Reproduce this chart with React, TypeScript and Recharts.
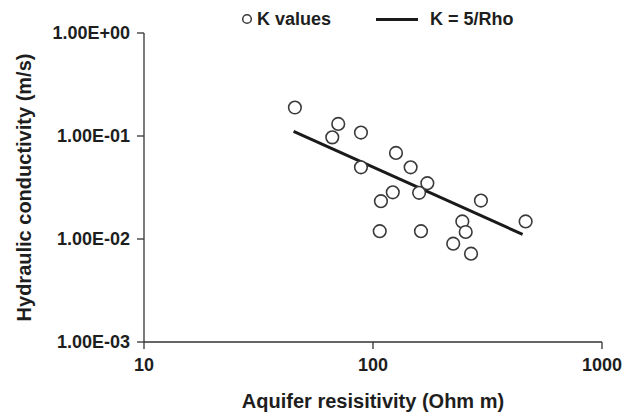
import React from 'react'
import { ComposedChart, Scatter, XAxis, YAxis } from 'recharts'

// measured resistivity (Ohm m) and hydraulic conductivity (m/s)
const rho = [45.6, 70.5, 66.4, 88.6, 126, 146, 88.6, 172.7, 159, 122, 108.3, 296, 464, 245.5, 254, 107, 162, 224, 268]
const kValues = [0.189, 0.131, 0.097, 0.108, 0.0685, 0.0497, 0.0497, 0.0348, 0.0281, 0.0284, 0.0233, 0.0236, 0.0148, 0.0148, 0.0117, 0.0119, 0.0119, 0.009, 0.0072]

// K = 5/Rho fit line end points
const fitRho = [45, 450]
const fitK = [0.111, 0.0111]

const xTicks = [10, 100, 1000]
const yTicks = [0.001, 0.01, 0.1, 1]
const yTickLabels = ['1.00E-03', '1.00E-02', '1.00E-01', '1.00E+00']

const points = rho.map((r, i) => ({ x: r, y: kValues[i] }))
const fit = fitRho.map((r, i) => ({ x: r, y: fitK[i] }))

const FONT = '"Liberation Sans", Arial, Helvetica, sans-serif'
const TEXT = '#1e1e1e'
const AXIS = '#333'

const Marker = (props: any) => {
    const { cx, cy } = props
    if (cx == null || cy == null) return null
    return <circle cx={cx} cy={cy} r={6.3} fill="#fff" stroke="#3a3a3a" strokeWidth={1.6} />
}

const YTitle = (props: any) => {
    const vb = props.viewBox || {}
    const cy = vb.y + vb.height / 2
    return (
        <text x={31} y={cy} transform={`rotate(-90, 31, ${cy})`} textAnchor="middle"
            fontFamily={FONT} fontWeight="bold" fontSize={20} fill={TEXT}>
            Hydraulic conductivity (m/s)
        </text>
    )
}

const XTitle = (props: any) => {
    const vb = props.viewBox || {}
    const cx = vb.x + vb.width / 2
    return (
        <text x={cx} y={408} textAnchor="middle" fontFamily={FONT} fontWeight="bold" fontSize={20} fill={TEXT}>
            Aquifer resisitivity (Ohm m)
        </text>
    )
}

export default function App() {
    return (
        <div style={{ position: 'absolute', left: 0, top: 0, width: 630, height: 418, background: '#fff' }}>
            <ComposedChart width={630} height={418} margin={{ top: 33, right: 28, bottom: 0, left: 0 }}>
                <XAxis
                    type="number"
                    dataKey="x"
                    scale="log"
                    domain={[10, 1000]}
                    ticks={xTicks}
                    allowDataOverflow
                    height={76}
                    tickSize={7}
                    tickMargin={9}
                    stroke={AXIS}
                    strokeWidth={1.3}
                    tick={{ fill: TEXT, fontSize: 18, fontWeight: 'bold', fontFamily: FONT }}
                    label={XTitle}
                />
                <YAxis
                    type="number"
                    dataKey="y"
                    scale="log"
                    domain={[0.001, 1]}
                    ticks={yTicks}
                    allowDataOverflow
                    width={144}
                    tickSize={7}
                    tickMargin={7}
                    stroke={AXIS}
                    strokeWidth={1.3}
                    tickFormatter={(v: number) => yTickLabels[yTicks.indexOf(v)] ?? ''}
                    tick={{ fill: TEXT, fontSize: 18, fontWeight: 'bold', fontFamily: FONT }}
                    label={YTitle}
                />
                <Scatter
                    name="K = 5/Rho"
                    data={fit}
                    line={{ stroke: '#1a1a1a', strokeWidth: 3 }}
                    shape={() => null}
                    isAnimationActive={false}
                />
                <Scatter
                    name="K values"
                    data={points}
                    shape={Marker}
                    isAnimationActive={false}
                />
            </ComposedChart>
            <div style={{
                position: 'absolute', top: 8, left: 0, width: 630, height: 24,
                fontFamily: FONT, fontWeight: 'bold', fontSize: 18, color: TEXT
            }}>
                <svg width={12} height={12} style={{ position: 'absolute', left: 241, top: 5 }}>
                    <circle cx={6} cy={6} r={4.3} fill="#fff" stroke="#3a3a3a" strokeWidth={1.5} />
                </svg>
                <span style={{ position: 'absolute', left: 257, top: 0, lineHeight: '22px' }}>K values</span>
                <div style={{ position: 'absolute', left: 376, top: 10, width: 42, height: 3, background: '#1a1a1a' }} />
                <span style={{ position: 'absolute', left: 430, top: 0, lineHeight: '22px' }}>K = 5/Rho</span>
            </div>
        </div>
    )
}
